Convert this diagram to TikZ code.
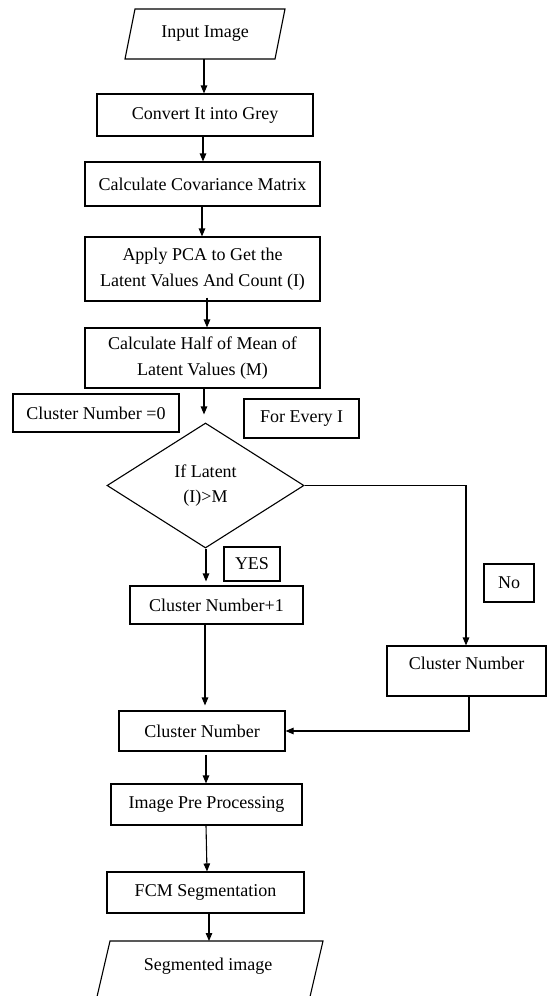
\documentclass[tikz,border=0pt]{standalone}
\usepackage{fontspec}
\setmainfont{Liberation Serif}
\usetikzlibrary{shapes.geometric,arrows.meta}
\begin{document}
\begin{tikzpicture}[x=1pt,y=-1pt,
  txt/.style={inner sep=0pt, align=center, font=\fontsize{18}{25.5}\selectfont},
  box/.style={txt, draw, line width=1.1pt},
  arr/.style={-{Triangle[length=8pt,width=6.5pt]}, line width=1.1pt},
  ln/.style={line width=1.1pt}]
\useasboundingbox (0,0) rectangle (547,996);
% input parallelogram
\node[txt] (in) at (205,34) {Input Image};
\draw[ln] (135,9) -- (285,9) -- (275,59) -- (125,59) -- cycle;
\coordinate (inbot) at (204,59);
% boxes
\node[box, minimum width=216pt, minimum height=42pt] (grey) at (205,115) {Convert It into Grey};
\node[box, minimum width=235pt, minimum height=44pt] (cov) at (202.5,184) {Calculate Covariance Matrix};
\node[box, minimum width=235pt, minimum height=64pt] (pca) at (202.5,269) {Apply PCA to Get the\\Latent Values And Count (I)};
\node[box, minimum width=235pt, minimum height=60pt] (half) at (202.5,358) {Calculate Half of Mean of\\Latent Values (M)};
\node[box, minimum width=166pt, minimum height=38pt] (c0) at (96,413) {Cluster Number =0};
\node[box, minimum width=115pt, minimum height=39pt] (every) at (301.5,418.5) {For Every I};
\node[box, diamond, minimum width=197pt, minimum height=125pt] (dia) at (205.5,485.5) {If Latent\\(I)>M};
\node[box, minimum width=56pt, minimum height=34pt] (yes) at (252,564) {YES};
\node[box, minimum width=50pt, minimum height=38pt] (no) at (509,583) {No};
\node[box, minimum width=173pt, minimum height=38pt] (cp1) at (216.5,605) {Cluster Number+1};
\node[box, minimum width=159pt, text height=23pt, text depth=27pt] (rcn) at (466.5,671) {Cluster Number};
\node[box, minimum width=166pt, minimum height=40pt] (lcn) at (202,731) {Cluster Number};
\node[box, minimum width=191pt, minimum height=41pt] (pre) at (206.5,804.5) {Image Pre Processing};
\node[box, minimum width=197pt, minimum height=41pt] (fcm) at (205.5,892.5) {FCM Segmentation};
% segmented parallelogram
\node[txt] (seg) at (208,966) {Segmented image};
\draw[ln] (96,1001) -- (110,941) -- (323,941) -- (309,1001);
\coordinate (segtop) at (209,941);
% connectors
\draw[arr] (inbot) -- (inbot |- grey.north);
\draw[arr] ([xshift=-2pt]grey.south) -- ([xshift=-2pt]grey.south |- cov.north);
\draw[arr] ([xshift=-0.5pt]cov.south) -- ([xshift=-0.5pt]cov.south |- pca.north);
\draw[arr] ([xshift=4.5pt,yshift=4pt]pca.south) -- ([xshift=4.5pt]pca.south |- half.north);
\draw[arr, shorten >=8pt] ([xshift=1.5pt]half.south) -- ([xshift=1.5pt]half.south |- dia.north);
\draw[arr, shorten >=4pt] ([xshift=0.5pt]dia.south) -- ([xshift=0.5pt]dia.south |- cp1.north);
\draw[arr] (dia.east) -| ([xshift=-0.5pt]rcn.north);
\draw[arr, shorten >=5pt] ([xshift=-11.5pt]cp1.south) -- ([xshift=-11.5pt]cp1.south |- lcn.north);
\draw[arr] ([xshift=2.5pt]rcn.south) |- (lcn.east);
\draw[arr, shorten <=3pt] ([xshift=4pt]lcn.south) -- ([xshift=4pt]lcn.south |- pre.north);
\draw[arr] ([xshift=-0.5pt]pre.south) -- ([xshift=1.5pt]fcm.north);
\draw[arr] ([xshift=3.5pt]fcm.south) -- (segtop);
\end{tikzpicture}
\end{document}
